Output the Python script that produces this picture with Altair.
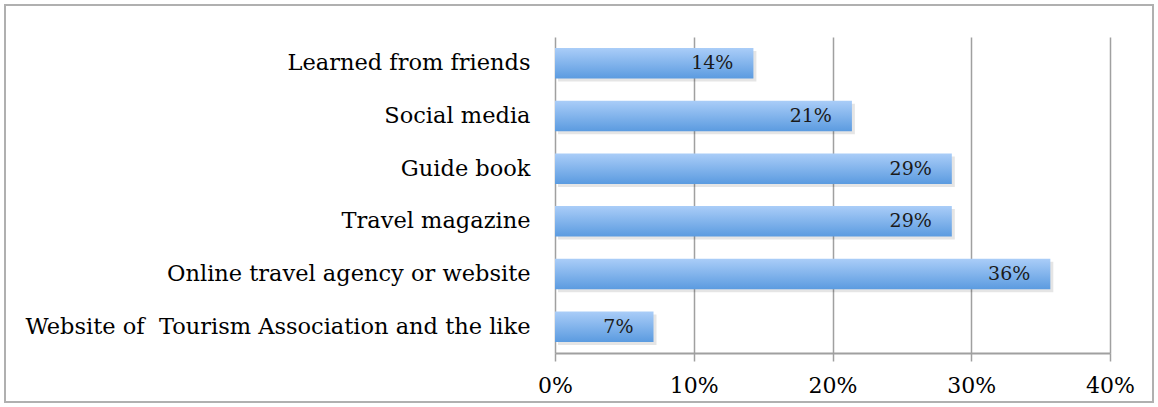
import altair as alt
import pandas as pd

categories = ["Learned from friends", "Social media", "Guide book", "Travel magazine",
              "Online travel agency or website", "Website of\u00a0 Tourism Association and the like"]
values = [0.143, 0.214, 0.286, 0.286, 0.357, 0.071]
labels = ["14%", "21%", "29%", "29%", "36%", "7%"]

df = pd.DataFrame({"cat": categories, "val": values, "lab": labels})

FONT = "DejaVu Serif"
W, H = 555, 316

xscale = alt.Scale(domain=[0, 0.4])
yenc = alt.Y("cat:N", sort=categories, title=None,
             scale=alt.Scale(paddingInner=0.42, paddingOuter=0.21),
             axis=alt.Axis(labelFont=FONT, labelFontSize=22.5, labelColor="black",
                           ticks=False, domain=False, labelPadding=25, labelLimit=600))

grad = alt.LinearGradient(gradient="linear", x1=0, x2=0, y1=0, y2=1,
                          stops=[alt.GradientStop(color="#aacdf8", offset=0),
                                 alt.GradientStop(color="#5b9be0", offset=1)])

border = alt.Chart(pd.DataFrame({"a": [0]})).mark_rect(
    fill=None, stroke="#b0b0b0", strokeWidth=2, clip=False
).encode(x=alt.value(-550), x2=alt.value(598), y=alt.value(-32), y2=alt.value(365))

shadow = alt.Chart(df).mark_bar(color="#000000", opacity=0.10, clip=False, xOffset=3, yOffset=3).encode(
    x=alt.X("val:Q", scale=xscale), y=yenc)

bars = alt.Chart(df).mark_bar(color=grad).encode(
    x=alt.X("val:Q", scale=xscale, title=None,
            axis=alt.Axis(values=[0, 0.1, 0.2, 0.3, 0.4], format=".0%", labelFont=FONT,
                          labelFontSize=22, labelColor="black", tickColor="#a0a0a0",
                          tickSize=8, domainColor="#a0a0a0", domainWidth=2,
                          gridColor="#a0a0a0", gridWidth=1.5, labelPadding=14,
                          tickWidth=1.5, labelFlush=False)),
    y=yenc)

text = alt.Chart(df).mark_text(align="right", dx=-20, font=FONT, fontSize=19, color="#1a1a1a").encode(
    x=alt.X("val:Q", scale=xscale), y=alt.Y("cat:N", sort=categories), text="lab:N")

chart = alt.layer(border, shadow, bars, text).properties(
    width=W, height=H, autosize=alt.AutoSizeParams(type="none"),
    padding={"left": 555, "top": 37, "right": 48, "bottom": 54},
    background="white"
).configure_view(stroke="transparent", strokeWidth=0)

chart.save("out.html", embed_options={"renderer": "svg", "actions": False})
